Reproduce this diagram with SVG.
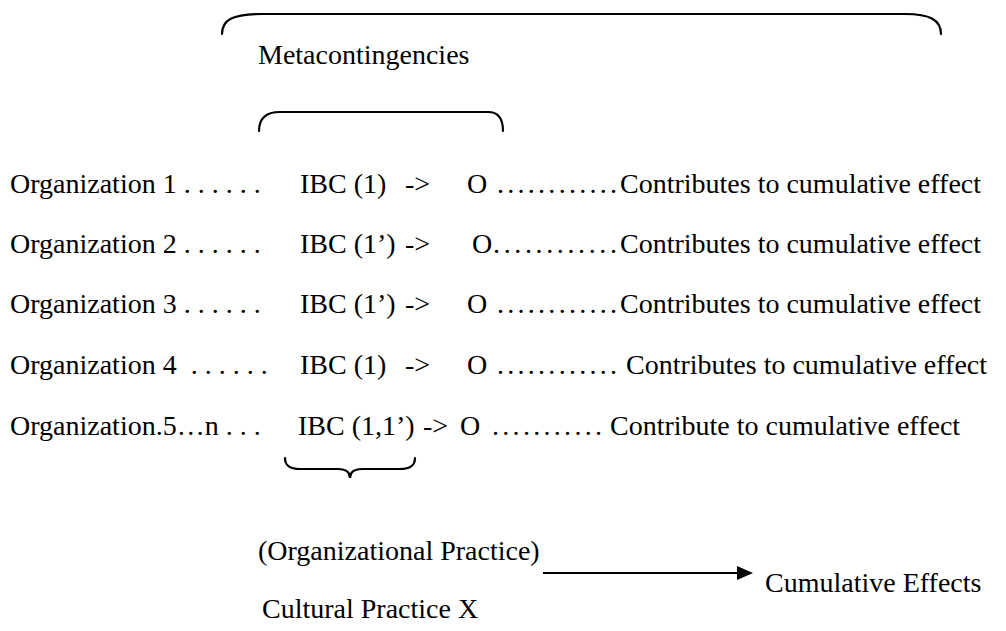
<svg xmlns="http://www.w3.org/2000/svg" width="1006" height="631" viewBox="0 0 1006 631">
<style>
text{font-family:"Liberation Serif","Times New Roman",serif;font-size:28px;fill:#000}
.br{fill:none;stroke:#000;stroke-width:2.2;stroke-linecap:round}
</style>
<rect width="1006" height="631" fill="#fff"/>
<g id="connectors">
<path class="br" d="M222,34 C222,20 232,14 262,14 L905,14 C930,14 941,20 941,34"/>
<path class="br" d="M259,131 C259,118 266,112 280,112 L488,112 C498,112 503,118 503,131"/>
<path class="br" d="M285,458 C285,466 290,469 300,469 L338,469 C346,469 350,472 350,478 C350,472 354,469 362,469 L400,469 C410,469 415,466 415,458"/>
<line x1="543" y1="573" x2="740" y2="573" stroke="#000" stroke-width="2"/>
<polygon points="753,573 737,566 737,580" fill="#000"/>
</g>
<g id="header"><text x="258" y="64">Metacontingencies</text></g>
<g id="row1">
<text x="10" y="193" xml:space="preserve">Organization 1 . . . . . .</text>
<text x="300" y="193">IBC (1)</text>
<text x="405" y="193">-&gt;</text>
<text x="467" y="193">O</text>
<text x="497" y="193" textLength="120" lengthAdjust="spacing">............</text>
<text x="620" y="193">Contributes to cumulative effect</text>
</g>
<g id="row2">
<text x="10" y="253" xml:space="preserve">Organization 2 . . . . . .</text>
<text x="300" y="253">IBC (1’)</text>
<text x="405" y="253">-&gt;</text>
<text x="472" y="253">O</text>
<text x="493" y="253" textLength="124" lengthAdjust="spacing">............</text>
<text x="620" y="253">Contributes to cumulative effect</text>
</g>
<g id="row3">
<text x="10" y="313" xml:space="preserve">Organization 3 . . . . . .</text>
<text x="300" y="313">IBC (1’)</text>
<text x="405" y="313">-&gt;</text>
<text x="467" y="313">O</text>
<text x="497" y="313" textLength="120" lengthAdjust="spacing">............</text>
<text x="620" y="313">Contributes to cumulative effect</text>
</g>
<g id="row4">
<text x="10" y="374" xml:space="preserve">Organization 4  . . . . . .</text>
<text x="300" y="374">IBC (1)</text>
<text x="405" y="374">-&gt;</text>
<text x="467" y="374">O</text>
<text x="497" y="374" textLength="120" lengthAdjust="spacing">............</text>
<text x="626" y="374">Contributes to cumulative effect</text>
</g>
<g id="row5">
<text x="10" y="435" xml:space="preserve">Organization.5…n . . .</text>
<text x="298" y="435">IBC (1,1’)</text>
<text x="423" y="435">-&gt;</text>
<text x="460" y="435">O</text>
<text x="492" y="435" textLength="110" lengthAdjust="spacing">...........</text>
<text x="610" y="435">Contribute to cumulative effect</text>
</g>
<g id="practice">
<text x="258" y="560">(Organizational Practice)</text>
<text x="262" y="618">Cultural Practice X</text>
</g>
<g id="effects"><text x="765" y="592">Cumulative Effects</text></g>
</svg>
